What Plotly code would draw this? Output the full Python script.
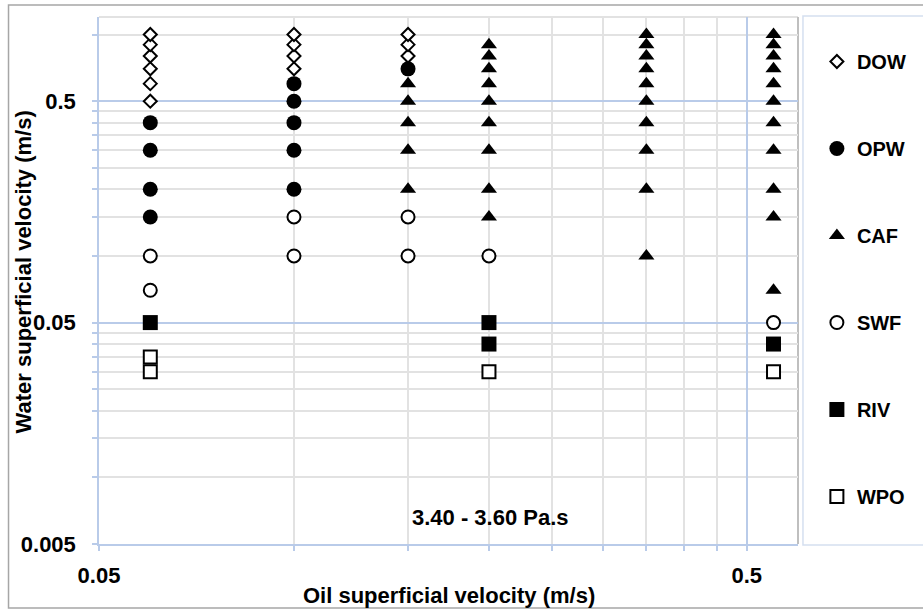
import plotly.graph_objects as go

# ---- data ----
series_names = ["DOW", "OPW", "CAF", "SWF", "RIV", "WPO"]

dow_x = [0.06, 0.06, 0.06, 0.06, 0.06, 0.06, 0.1, 0.1, 0.1, 0.1, 0.15, 0.15, 0.15]
dow_y = [0.5, 0.6, 0.7, 0.8, 0.9, 1.0, 0.7, 0.8, 0.9, 1.0, 0.8, 0.9, 1.0]

opw_x = [0.06, 0.06, 0.06, 0.06, 0.1, 0.1, 0.1, 0.1, 0.1, 0.15]
opw_y = [0.4, 0.3, 0.2, 0.15, 0.6, 0.5, 0.4, 0.3, 0.2, 0.7]

caf_x = [0.15, 0.15, 0.15, 0.15, 0.15,
         0.2, 0.2, 0.2, 0.2, 0.2, 0.2, 0.2, 0.2, 0.2,
         0.35, 0.35, 0.35, 0.35, 0.35, 0.35, 0.35, 0.35, 0.35, 0.35,
         0.55, 0.55, 0.55, 0.55, 0.55, 0.55, 0.55, 0.55, 0.55, 0.55, 0.55]
caf_y = [0.6, 0.5, 0.4, 0.3, 0.2,
         0.9, 0.8, 0.7, 0.6, 0.5, 0.4, 0.3, 0.2, 0.15,
         1.0, 0.9, 0.8, 0.7, 0.6, 0.5, 0.4, 0.3, 0.2, 0.1,
         1.0, 0.9, 0.8, 0.7, 0.6, 0.5, 0.4, 0.3, 0.2, 0.15, 0.07]

swf_x = [0.06, 0.06, 0.1, 0.1, 0.15, 0.15, 0.2, 0.55]
swf_y = [0.1, 0.07, 0.15, 0.1, 0.15, 0.1, 0.1, 0.05]

riv_x = [0.06, 0.2, 0.2, 0.55]
riv_y = [0.05, 0.05, 0.04, 0.04]

wpo_x = [0.06, 0.06, 0.2, 0.55]
wpo_y = [0.035, 0.03, 0.03, 0.03]

x_major_ticks = [0.05, 0.5]
x_major_labels = ["0.05", "0.5"]
x_minor_ticks = [0.1, 0.15, 0.2, 0.25, 0.3, 0.35, 0.4, 0.45]
y_major_ticks = [0.005, 0.05, 0.5]
y_major_labels = ["0.005", "0.05", "0.5"]
y_minor_ticks = [0.01, 0.015, 0.02, 0.025, 0.03, 0.035, 0.04, 0.045,
                 0.1, 0.15, 0.2, 0.25, 0.3, 0.35, 0.4, 0.45, 1.0]

x_title = "Oil superficial velocity (m/s)"
y_title = "Water superficial velocity (m/s)"
note_text = "3.40 - 3.60 Pa.s"

# ---- styles ----
FONT = "Liberation Sans, Arial, sans-serif"
styles = {
    "DOW": dict(symbol="diamond", size=10, color="white", line=dict(color="black", width=2)),
    "OPW": dict(symbol="circle", size=15, color="black", line=dict(color="black", width=0)),
    "CAF": dict(symbol="triangle-up", size=14, color="black", line=dict(color="black", width=0)),
    "SWF": dict(symbol="circle", size=13, color="white", line=dict(color="black", width=2)),
    "RIV": dict(symbol="square", size=15, color="black", line=dict(color="black", width=0)),
    "WPO": dict(symbol="square", size=13, color="white", line=dict(color="black", width=2)),
}
data = {
    "DOW": (dow_x, dow_y), "OPW": (opw_x, opw_y), "CAF": (caf_x, caf_y),
    "SWF": (swf_x, swf_y), "RIV": (riv_x, riv_y), "WPO": (wpo_x, wpo_y),
}

fig = go.Figure()
for name in series_names:
    xs, ys = data[name]
    fig.add_trace(go.Scatter(
        x=xs, y=ys, mode="markers", name=name, legendgroup=name,
        marker=styles[name], cliponaxis=False,
    ))

# geometry of the plot area (pixels)
W, H = 923, 614
L, R, T, B = 99, 802, 17, 544
pw, ph = R - L, B - T

def px(xp):
    return (xp - L) / pw

def py(yp):
    return (B - yp) / ph

AXIS_BLUE = "#b9cbe9"
GRID_GRAY = "#e2e2e2"

fig.update_layout(
    width=W, height=H,
    margin=dict(l=L, r=W - R, t=T, b=H - B),
    paper_bgcolor="white", plot_bgcolor="white",
    font=dict(family=FONT, size=20, color="black", weight="bold"),
    showlegend=True,
    legend=dict(
        x=px(821), xanchor="left", y=py(42), yanchor="top",
        font=dict(family=FONT, size=20, color="black", weight="bold"),
        tracegroupgap=58, bgcolor="rgba(0,0,0,0)", itemsizing="trace",
    ),
    xaxis=dict(
        type="log", range=[-1.30103, -0.221849],
        tickmode="array", tickvals=x_major_ticks, ticktext=x_major_labels,
        tickfont=dict(family=FONT, size=22, color="black", weight="bold"),
        showgrid=True, gridcolor=AXIS_BLUE, gridwidth=1.5,
        showline=True, linecolor=AXIS_BLUE, linewidth=1.5,
        ticks="outside", ticklen=5, tickcolor=AXIS_BLUE, tickwidth=1.5,
        ticklabelstandoff=6,
        minor=dict(tickmode="array", tickvals=x_minor_ticks, showgrid=True,
                   gridcolor=GRID_GRAY, gridwidth=1.5, ticks="outside",
                   ticklen=5, tickcolor=AXIS_BLUE, tickwidth=1.5),
        zeroline=False, fixedrange=True,
    ),
    yaxis=dict(
        type="log", range=[-2.30103, 0.0791812],
        tickmode="array", tickvals=y_major_ticks, ticktext=y_major_labels,
        tickfont=dict(family=FONT, size=22, color="black", weight="bold"),
        showgrid=True, gridcolor=AXIS_BLUE, gridwidth=1.5,
        showline=True, linecolor=AXIS_BLUE, linewidth=1.5,
        ticks="outside", ticklen=5, tickcolor=AXIS_BLUE, tickwidth=1.5,
        ticklabelstandoff=12,
        minor=dict(tickmode="array", tickvals=y_minor_ticks, showgrid=True,
                   gridcolor=GRID_GRAY, gridwidth=1.5, ticks="outside",
                   ticklen=5, tickcolor=AXIS_BLUE, tickwidth=1.5),
        zeroline=False, fixedrange=True,
    ),
    shapes=[
        # outer chart border
        dict(type="rect", xref="paper", yref="paper",
             x0=px(8), x1=px(940), y0=py(608), y1=py(5),
             line=dict(color="#a6a6a6", width=1.5), layer="below"),
        # plot area top/right border
        dict(type="line", xref="paper", yref="paper", x0=0, x1=1, y0=1, y1=1,
             line=dict(color="#d9d9d9", width=1.5), layer="below"),
        dict(type="line", xref="paper", yref="paper", x0=1, x1=1, y0=0, y1=1,
             line=dict(color="#bfbfbf", width=2), layer="below"),
        # legend box
        dict(type="rect", xref="paper", yref="paper",
             x0=px(807), x1=px(940), y0=py(545), y1=py(16),
             line=dict(color="#d5dff0", width=1.5), layer="below"),
    ],
    annotations=[
        dict(text=note_text, xref="paper", yref="paper", x=px(493), y=py(517),
             xanchor="center", yanchor="middle", showarrow=False,
             font=dict(family=FONT, size=22, color="black", weight="bold")),
        dict(text=x_title, xref="paper", yref="paper", x=px(451), y=py(595),
             xanchor="center", yanchor="middle", showarrow=False,
             font=dict(family=FONT, size=22, color="black", weight="bold")),
        dict(text=y_title, xref="paper", yref="paper", x=px(23), y=py(272),
             xanchor="center", yanchor="middle", showarrow=False, textangle=-90,
             font=dict(family=FONT, size=22, color="black", weight="bold")),
    ],
)

fig.write_html("out.html",
               config={"displayModeBar": False},
               post_script="document.body.style.margin='0';document.body.style.overflow='hidden';")
